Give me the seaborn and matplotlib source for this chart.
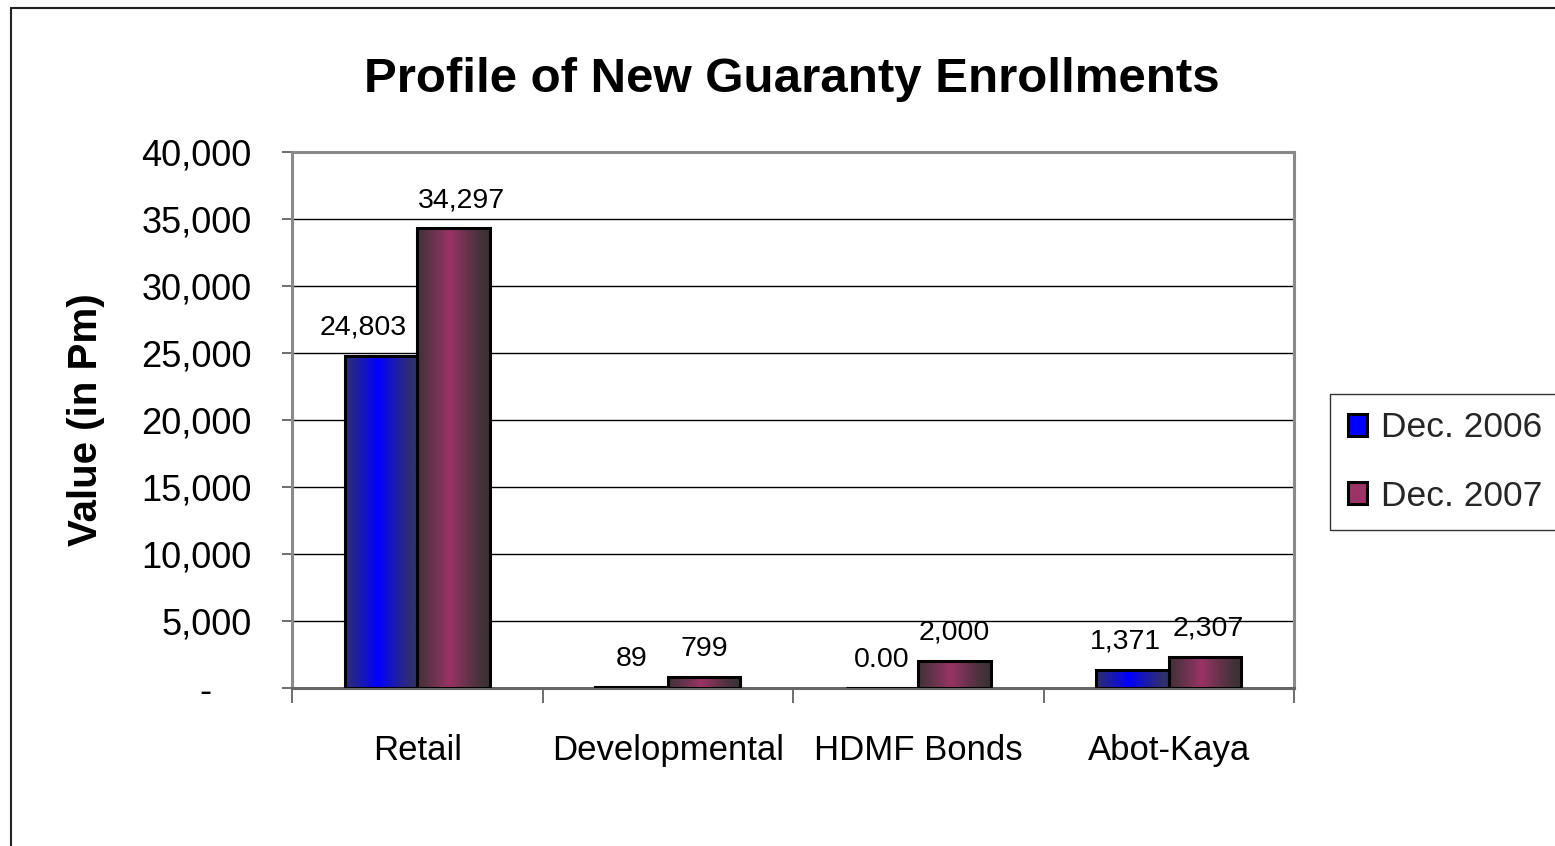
import numpy as np
import pandas as pd
import matplotlib
matplotlib.use("Agg")
import matplotlib.pyplot as plt
from matplotlib.patches import Patch
from matplotlib.colors import to_rgb
from matplotlib.ticker import FuncFormatter, FixedLocator
import seaborn as sns

# ---- data ----
categories = ["Retail", "Developmental", "HDMF Bonds", "Abot-Kaya"]
series_names = ["Dec. 2006", "Dec. 2007"]
values_2006 = [24803, 89, 0, 1371]
values_2007 = [34297, 799, 2000, 2307]
y_ticks = [0, 5000, 10000, 15000, 20000, 25000, 30000, 35000, 40000]

df = pd.DataFrame({
    "Category": categories * 2,
    "Series": [series_names[0]] * 4 + [series_names[1]] * 4,
    "Value": values_2006 + values_2007,
})

sns.set_theme(style="white")
plt.rcParams["font.family"] = ["Liberation Sans", "DejaVu Sans"]

W, H = 1555, 846
fig = plt.figure(figsize=(W / 100, H / 100), dpi=100)
ax = fig.add_axes([292 / W, 1 - 688 / H, (1294 - 292) / W, (688 - 152) / H])

edge_cols = {"Dec. 2006": "#31316a", "Dec. 2007": "#3c3236"}
mid_cols = {"Dec. 2006": "#0000ff", "Dec. 2007": "#9a3466"}

sns.barplot(data=df, x="Category", y="Value", hue="Series", order=categories,
            hue_order=series_names, width=0.58, gap=0, legend=False,
            palette=[mid_cols[s] for s in series_names], ax=ax,
            edgecolor="black", linewidth=2.2, saturation=1, zorder=3)

ax.set_xlim(-0.5, 3.5)
ax.set_ylim(0, 40000)


def gradient_strip(c_edge, c_mid, n=256):
    t = np.linspace(0, 1, n)
    w = np.clip(1 - np.abs(t - 0.45) / 0.5, 0, 1) ** 1.2
    e = np.array(to_rgb(c_edge))
    m = np.array(to_rgb(c_mid))
    rgb = e[None, :] * (1 - w[:, None]) + m[None, :] * w[:, None]
    return rgb[None, :, :]


# shaded fill inside each bar, clipped to the bar outline
for cont, name in zip(ax.containers, series_names):
    img = gradient_strip(edge_cols[name], mid_cols[name])
    for p in cont.patches:
        x0, y0 = p.get_x(), p.get_y()
        w, h = p.get_width(), p.get_height()
        if h <= 0:
            continue
        im = ax.imshow(img, extent=(x0, x0 + w, y0, y0 + h), aspect="auto",
                       interpolation="bilinear", zorder=2.9)
        im.set_clip_path(p)
        p.set_facecolor("none")
        p.set_zorder(3.1)

ax.set_xlim(-0.5, 3.5)
ax.set_ylim(0, 40000)
ax.set_aspect("auto")

# value labels; a few are nudged sideways so neighbouring labels don't collide
nudges = [[-13, 0, 0, -5], [6, 0, 0, 2]]
for cont, vals, dxs in zip(ax.containers, [values_2006, values_2007], nudges):
    labels = [f"{v:,.0f}" if v else "0.00" for v in vals]
    anns = ax.bar_label(cont, labels=labels, padding=11, fontsize=20.5, color="black")
    for a, dx in zip(anns, dxs):
        a.xyann = (dx, a.xyann[1])

# grid and frame
ax.yaxis.set_major_locator(FixedLocator(y_ticks))
ax.yaxis.grid(True, color="black", linewidth=1.0, zorder=0)
ax.set_axisbelow(True)
ax.xaxis.grid(False)
for s in ax.spines.values():
    s.set_visible(True)
    s.set_color("#8a8a8a")
    s.set_linewidth(2.2)
ax.spines["bottom"].set_color("#666666")

ax.yaxis.set_major_formatter(FuncFormatter(lambda v, _: "-    " if v == 0 else f"{v:,.0f}"))
ax.tick_params(axis="y", which="major", left=True, length=7, width=1.2,
               color="#555555", labelsize=26, pad=22, labelcolor="black")

# category labels between boundary ticks
ax.xaxis.set_major_locator(FixedLocator([-0.5, 0.5, 1.5, 2.5, 3.5]))
ax.xaxis.set_minor_locator(FixedLocator([0, 1, 2, 3]))
ax.set_xticklabels([])
ax.set_xticklabels(categories, minor=True)
ax.tick_params(axis="x", which="major", bottom=True, length=11, width=1.2, color="#555555")
ax.tick_params(axis="x", which="minor", bottom=False, length=0, labelsize=25,
               pad=33, labelcolor="black")
ax.set_xlabel("")

ax.set_ylabel("Value (in Pm)", fontsize=29, fontweight="bold", color="black")
ax.yaxis.set_label_coords((105 - 292) / (1294 - 292), 0.5)

fig.text(792 / W, 1 - 79 / H, "Profile of New Guaranty Enrollments",
         ha="center", va="center", fontsize=35.5, fontweight="bold", color="black")

# legend
handles = [Patch(facecolor=mid_cols[s], edgecolor="black", linewidth=2.2, label=s)
           for s in series_names]
leg = fig.legend(handles=handles, loc="center left",
                 bbox_to_anchor=(1330 / W, 1 - 462 / H), frameon=True,
                 fontsize=25.5, handlelength=0.55, handleheight=0.6,
                 handletextpad=0.4, labelspacing=1.0, borderpad=0.5,
                 fancybox=False, borderaxespad=0)
leg.get_frame().set_edgecolor("black")
leg.get_frame().set_linewidth(1.0)

# outer chart border (runs off the right and bottom edges)
fig.add_artist(plt.Line2D([11 / W, 1.0], [1 - 8 / H, 1 - 8 / H], color="#222222",
                          linewidth=1.5, transform=fig.transFigure))
fig.add_artist(plt.Line2D([11 / W, 11 / W], [1 - 8 / H, 0.0], color="#222222",
                          linewidth=1.5, transform=fig.transFigure))

fig.savefig("out.png", dpi=100, facecolor="white")
